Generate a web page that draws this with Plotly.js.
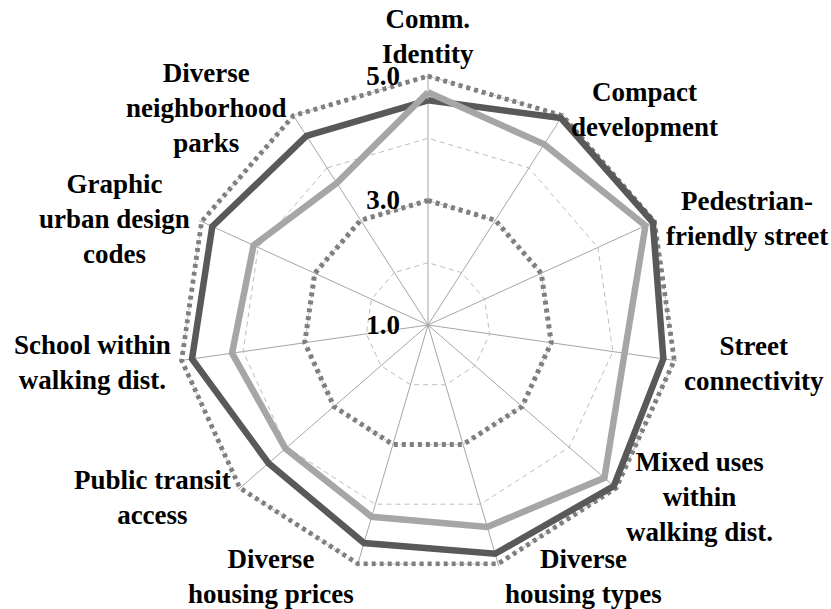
<!DOCTYPE html>
<html>
<head>
<meta charset="utf-8">
<script src="https://cdn.plot.ly/plotly-3.0.1.min.js"></script>
<style>html,body{margin:0;padding:0;background:#fff;}#chart{width:831px;height:609px;}</style>
</head>
<body>
<div id="chart"></div>
<script>
// ---- data ----
var categories = [
  'Comm.<br>Identity',
  'Compact<br>development',
  'Pedestrian-<br>friendly street',
  'Street<br>connectivity',
  'Mixed uses<br>within<br>walking dist.',
  'Diverse<br>housing types',
  'Diverse<br>housing prices',
  'Public transit<br>access',
  'School within<br>walking dist.',
  'Graphic<br>urban design<br>codes',
  'Diverse<br>neighborhood<br>parks'
];
var seriesDark  = [4.61, 4.95, 4.97, 4.82, 4.95, 4.83, 4.65, 4.39, 4.83, 4.81, 4.61];
var seriesLight = [4.74, 4.45, 4.84, 4.19, 4.75, 4.38, 4.21, 4.03, 4.18, 4.08, 3.71];
var ringOuter   = [5, 5, 5, 5, 5, 5, 5, 5, 5, 5, 5];
var ringMiddle  = [3, 3, 3, 3, 3, 3, 3, 3, 3, 3, 3];
var radialTickVals = [1, 2, 3, 4, 5];
var radialTickText = ['1.0', '', '3.0', '', '5.0'];

function closed(a) { return a.concat([a[0]]); }
var theta = closed(categories);

var W = 831, H = 609;
var cx = 428, cy = 325;
var rMin = 1, rMax = 5.04;           // small headroom so the outer ring is not clipped
var R = 249 * (rMax - rMin) / 4;     // pixel radius of rMax (value 5 sits at 249px)

function ring(vals) {
  return {type: 'scatterpolar', mode: 'lines', r: closed(vals), theta: theta,
    line: {color: '#7f7f7f', width: 5, dash: '4px,4px'}, hoverinfo: 'skip', cliponaxis: false};
}

var traces = [
  ring(ringOuter),
  ring(ringMiddle),
  {type: 'scatterpolar', mode: 'lines', r: closed(seriesDark), theta: theta,
    line: {color: '#595959', width: 6.5}, cliponaxis: false},
  {type: 'scatterpolar', mode: 'lines', r: closed(seriesLight), theta: theta,
    line: {color: '#a6a6a6', width: 6.5}, cliponaxis: false}
];

// label positions (pixel centres)
var labelPos = [
  [428, 36], [644, 109], [747, 218], [754, 363], [699, 497], [583, 576],
  [271, 576], [152, 497], [92, 362], [115, 219], [206, 108]
];
var font = {family: 'Liberation Serif', size: 27, color: '#000', weight: 'bold'};
var annotations = categories.map(function (c, i) {
  return {text: c, xref: 'paper', yref: 'paper',
    x: labelPos[i][0] / W, y: 1 - labelPos[i][1] / H,
    xanchor: 'center', yanchor: 'middle', showarrow: false, align: 'center', font: font};
});

var layout = {
  width: W, height: H,
  margin: {l: 0, r: 0, t: 0, b: 0},
  paper_bgcolor: '#fff',
  showlegend: false,
  annotations: annotations,
  polar: {
    domain: {x: [(cx - R) / W, (cx + R) / W], y: [1 - (cy + R) / H, 1 - (cy - R) / H]},
    bgcolor: '#fff',
    gridshape: 'linear',
    angularaxis: {
      direction: 'clockwise', rotation: 90,
      showticklabels: false, ticks: '', showline: false,
      showgrid: true, gridcolor: '#a6a6a6', gridwidth: 1
    },
    radialaxis: {
      range: [rMin, rMax], angle: 90, side: 'counterclockwise',
      showline: false, ticks: 'outside', ticklen: 18, tickcolor: 'rgba(0,0,0,0)',
      tickvals: radialTickVals, ticktext: radialTickText, tickangle: 90,
      tickfont: font,
      showgrid: true, gridcolor: '#bdbdbd', gridwidth: 1, griddash: '5px,4px'
    }
  }
};

Plotly.newPlot('chart', traces, layout, {staticPlot: true});
</script>
</body>
</html>
